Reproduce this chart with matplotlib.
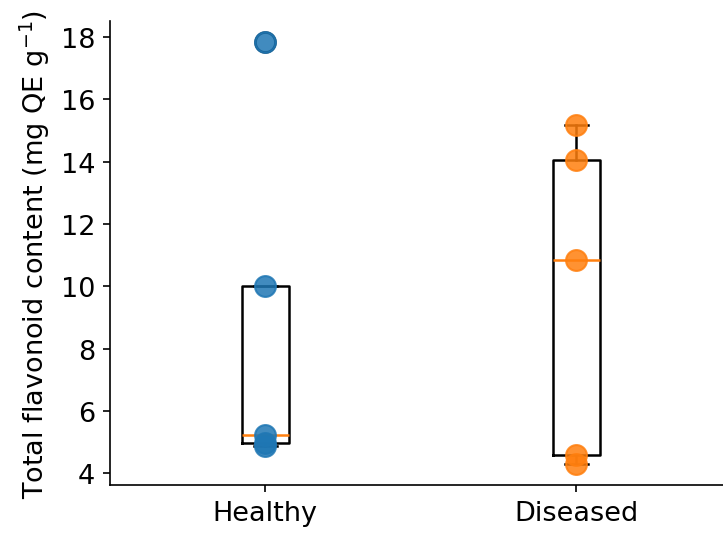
import numpy as np
import matplotlib.pyplot as plt

groups = ['Healthy', 'Diseased']
healthy = [4.87, 4.97, 5.24, 10.0, 17.84]
diseased = [4.30, 4.57, 10.85, 14.05, 15.18]
colors = ['#1f77b4', '#ff7f0e']

plt.rcParams['font.size'] = 13

fig = plt.figure(figsize=(4.82, 3.5733), dpi=150)
ax = fig.add_axes([0.152, 0.0933, 0.860, 0.8657])

data = [healthy, diseased]
lw = 1.2
ax.boxplot(data,
           boxprops=dict(linewidth=lw), whiskerprops=dict(linewidth=lw),
           capprops=dict(linewidth=lw), medianprops=dict(linewidth=lw),
           flierprops=dict(marker='o', markersize=9.5, markeredgecolor='black',
                           markeredgewidth=1.2, markerfacecolor='none'))
for i in range(len(data)):
    ax.scatter(np.full(len(data[i]), i + 1), data[i], s=100, color=colors[i], alpha=0.85, zorder=3)

ax.set_xticks([1, 2])
ax.set_xticklabels(groups)
ax.set_yticks([4, 6, 8, 10, 12, 14, 16, 18])
ax.set_ylabel('Total flavonoid content (mg QE g$^{-1}$)')
ax.spines['top'].set_visible(False)
ax.spines['right'].set_visible(False)

plt.savefig('out.png', dpi=150)
